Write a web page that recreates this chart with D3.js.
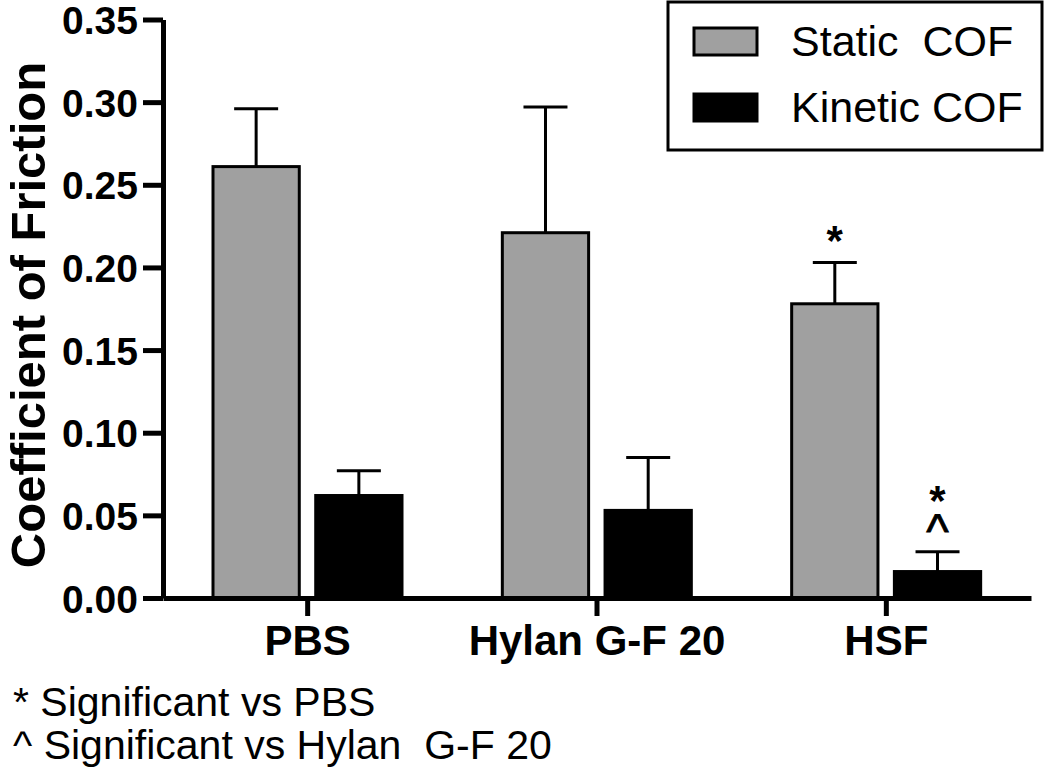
<!DOCTYPE html>
<html>
<head>
<meta charset="utf-8">
<script src="https://cdn.jsdelivr.net/npm/d3@7"></script>
<style>
  html, body { margin: 0; padding: 0; background: #fff; }
  svg { display: block; }
  text { font-family: "Liberation Sans", Arial, sans-serif; fill: #000; }
</style>
</head>
<body>
<svg id="chart" width="1050" height="779"></svg>
<script>
// ---- data ----
const categories = ["PBS", "Hylan G-F 20", "HSF"];
const seriesNames = ["Static  COF", "Kinetic COF"];
const staticMean = [0.261, 0.221, 0.178];
const staticErr  = [0.035, 0.076, 0.025];
const kineticMean = [0.062, 0.053, 0.016];
const kineticErr  = [0.015, 0.032, 0.012];
const yTicks = [0.00, 0.05, 0.10, 0.15, 0.20, 0.25, 0.30, 0.35];
const staticMarks = [[], [], ["*"]];
const kineticMarks = [[], [], ["*", "^"]];
const footnotes = ["* Significant vs PBS", "^ Significant vs Hylan  G-F 20"];
const yTitle = "Coefficient of Friction";

const seriesColors = ["#a0a0a0", "#000000"];

const rows = categories.map((c, i) => ({
  cat: c,
  vals: [
    { s: 0, mean: staticMean[i], err: staticErr[i], marks: staticMarks[i] },
    { s: 1, mean: kineticMean[i], err: kineticErr[i], marks: kineticMarks[i] }
  ]
}));

const svg = d3.select("#chart");
const pLeft = 163, pRight = 1031, pTop = 19.5, pBottom = 598;

const x0 = d3.scaleBand().domain(categories).range([pLeft, pRight]).paddingInner(0).paddingOuter(0);
const x1 = d3.scaleBand().domain([0, 1]).range([50, 239]).paddingInner(0.16).paddingOuter(0);
const y = d3.scaleLinear().domain([0, 0.35]).range([pBottom, pTop]);

// bars
const g = svg.append("g");
const grp = g.selectAll("g.grp").data(rows).join("g")
  .attr("class", "grp")
  .attr("transform", d => `translate(${x0(d.cat)},0)`);

grp.selectAll("rect").data(d => d.vals).join("rect")
  .attr("x", d => x1(d.s))
  .attr("width", x1.bandwidth())
  .attr("y", d => y(d.mean))
  .attr("height", d => y(0) - y(d.mean))
  .attr("fill", d => seriesColors[d.s])
  .attr("stroke", "#000")
  .attr("stroke-width", 3);

// error bars
const eb = grp.selectAll("g.eb").data(d => d.vals).join("g").attr("class", "eb");
eb.append("line")
  .attr("x1", d => x1(d.s) + x1.bandwidth() / 2)
  .attr("x2", d => x1(d.s) + x1.bandwidth() / 2)
  .attr("y1", d => y(d.mean))
  .attr("y2", d => y(d.mean + d.err))
  .attr("stroke", "#000").attr("stroke-width", 3);
eb.append("line")
  .attr("x1", d => x1(d.s) + x1.bandwidth() / 2 - 22)
  .attr("x2", d => x1(d.s) + x1.bandwidth() / 2 + 22)
  .attr("y1", d => y(d.mean + d.err))
  .attr("y2", d => y(d.mean + d.err))
  .attr("stroke", "#000").attr("stroke-width", 3);

// significance marks: one text per bar, stacked tspans above the cap
eb.filter(d => d.marks.length > 0).each(function(d) {
  const cx = x1(d.s) + x1.bandwidth() / 2;
  const capY = y(d.mean + d.err);
  const n = d.marks.length;
  const t = d3.select(this).append("text").attr("text-anchor", "middle");
  d.marks.forEach((m, k) => {
    const idxFromCap = n - 1 - k;
    const ts = t.append("tspan").attr("x", cx).text(m);
    if (m === "^") {
      ts.attr("y", capY - 4 - idxFromCap * 30)
        .attr("font-size", 48)
        .attr("stroke", "#000").attr("stroke-width", 0.8);
    } else {
      ts.attr("y", capY - 7 - idxFromCap * 30)
        .attr("font-size", 42)
        .attr("font-weight", "bold");
    }
  });
});

// y axis
const yAxis = d3.axisLeft(y).tickValues(yTicks).tickFormat(d3.format(".2f"))
  .tickSize(20).tickSizeOuter(0).tickPadding(5);
const ya = svg.append("g").attr("transform", `translate(${pLeft},0)`).call(yAxis);
ya.select(".domain").attr("stroke", "#000").attr("stroke-width", 5);
ya.selectAll(".tick line").attr("stroke", "#000").attr("stroke-width", 5);
ya.selectAll(".tick text")
  .attr("font-family", "'Liberation Sans', Arial, sans-serif")
  .attr("font-size", 39).attr("font-weight", "bold").attr("fill", "#000")
  .attr("dy", "0.36em");

// x axis
const xAxis = d3.axisBottom(x0).tickSize(18).tickSizeOuter(0).tickPadding(12);
const xa = svg.append("g").attr("transform", `translate(0,${pBottom})`).call(xAxis);
xa.select(".domain").attr("stroke", "#000").attr("stroke-width", 5);
xa.selectAll(".tick line").attr("stroke", "#000").attr("stroke-width", 5);
xa.selectAll(".tick text").remove();
xa.selectAll(".tick").append("text")
  .attr("y", 57)
  .attr("text-anchor", "middle")
  .attr("font-family", "'Liberation Sans', Arial, sans-serif")
  .attr("font-size", 42).attr("font-weight", "bold").attr("fill", "#000")
  .text(d => d);

// y title
svg.append("text")
  .attr("transform", "translate(45,315) rotate(-90)")
  .attr("text-anchor", "middle")
  .attr("font-size", 49).attr("font-weight", "bold")
  .text(yTitle);

// legend
const lg = svg.append("g");
lg.append("rect").attr("x", 668).attr("y", 2).attr("width", 374).attr("height", 148)
  .attr("fill", "#fff").attr("stroke", "#000").attr("stroke-width", 3);
const li = lg.selectAll("g.li").data(seriesNames).join("g").attr("class", "li")
  .attr("transform", (d, i) => `translate(0,${i * 66})`);
li.append("rect").attr("x", 694).attr("y", 28).attr("width", 63).attr("height", 27)
  .attr("fill", (d, i) => seriesColors[i]).attr("stroke", "#000").attr("stroke-width", 3);
li.append("text").attr("x", 791).attr("y", 56)
  .attr("font-size", 43).style("white-space", "pre")
  .text(d => d);

// footnotes
svg.selectAll("text.fn").data(footnotes).join("text").attr("class", "fn")
  .attr("x", 13).attr("y", (d, i) => 716 + i * 43)
  .attr("font-size", 41).style("white-space", "pre")
  .text(d => d);
</script>
</body>
</html>
